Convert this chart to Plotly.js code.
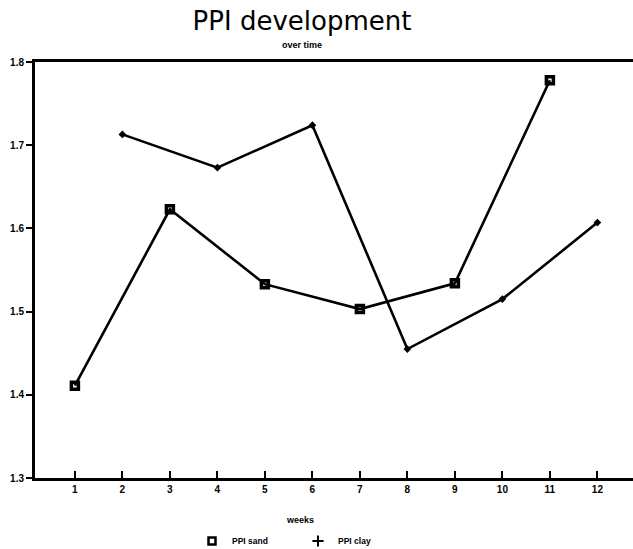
<!DOCTYPE html>
<html>
<head>
<meta charset="utf-8">
<script src="https://cdn.plot.ly/plotly-3.0.1.min.js"></script>
<style>html,body{margin:0;padding:0;overflow:hidden;background:#fff}</style>
</head>
<body>
<div id="chart" style="width:633px;height:549px"></div>
<script>
const sandWeeks = [1, 3, 5, 7, 9, 11];
const sandPPI = [1.411, 1.623, 1.533, 1.503, 1.534, 1.778];
const clayWeeks = [2, 4, 6, 8, 10, 12];
const clayPPI = [1.713, 1.673, 1.724, 1.455, 1.515, 1.607];
const weekTicks = [1, 2, 3, 4, 5, 6, 7, 8, 9, 10, 11, 12];
const yTicks = [1.3, 1.4, 1.5, 1.6, 1.7, 1.8];

const fontFam = 'Liberation Sans, Arial, sans-serif';
const data = [
  {x: sandWeeks, y: sandPPI, mode: 'lines+markers', name: 'PPI sand', showlegend: false,
   line: {color: '#000', width: 2.6},
   marker: {symbol: 'square-open', size: 7, color: '#000', line: {width: 3.5, color: '#000'}}},
  {x: clayWeeks, y: clayPPI, mode: 'lines+markers', name: 'PPI clay', showlegend: false,
   line: {color: '#000', width: 2.6},
   marker: {symbol: 'diamond', size: 6, color: '#000'}},
  {x: [null], y: [null], mode: 'markers', name: 'PPI sand', showlegend: true,
   marker: {symbol: 'square-open', size: 7, color: '#000', line: {width: 2.5, color: '#000'}}},
  {x: [null], y: [null], mode: 'markers', name: 'PPI clay', showlegend: true,
   marker: {symbol: 'cross-thin-open', size: 8, color: '#000', line: {width: 2, color: '#000'}}}
];

const layout = {
  width: 633, height: 549,
  margin: {l: 35, r: 0, t: 62, b: 71, autoexpand: false},
  paper_bgcolor: '#fff', plot_bgcolor: '#fff',
  font: {family: fontFam, color: '#000'},
  title: {text: 'PPI development', x: 302/633, xref: 'container', xanchor: 'center',
          y: 1 - 21/549, yref: 'container', yanchor: 'middle',
          font: {size: 26, family: 'DejaVu Sans, sans-serif', color: '#000'}},
  annotations: [
    {text: 'over time', xref: 'paper', yref: 'paper', x: (302-35)/598, y: 1 + 17/416,
     xanchor: 'center', yanchor: 'middle', showarrow: false,
     font: {size: 9, family: fontFam, weight: 'bold', color: '#000'}},
    {text: 'weeks', xref: 'paper', yref: 'paper', x: (300-35)/598, y: -42/416,
     xanchor: 'center', yanchor: 'middle', showarrow: false,
     font: {size: 9, family: fontFam, weight: 'bold', color: '#000'}}
  ],
  xaxis: {range: [0.16, 12.75], tickvals: weekTicks, ticktext: weekTicks.map(String),
          ticks: 'inside', ticklen: 7, tickwidth: 2, tickcolor: '#000',
          showline: true, linecolor: '#000', linewidth: 3, mirror: true,
          showgrid: false, zeroline: false, automargin: false,
          tickfont: {size: 10, family: fontFam, weight: 'bold'}},
  yaxis: {range: [1.3, 1.8], tickvals: yTicks, ticktext: yTicks.map(v => v.toFixed(1)),
          ticks: 'outside', ticklen: 6, tickwidth: 2, tickcolor: '#000',
          showline: true, linecolor: '#000', linewidth: 3,
          showgrid: false, zeroline: false, automargin: false,
          tickfont: {size: 10, family: fontFam, weight: 'bold'}},
  legend: {orientation: 'h', x: (192-35)/598, xanchor: 'left', y: -63/416, yanchor: 'middle',
           font: {size: 8.5, family: fontFam, weight: 'bold'}, itemwidth: 30,
           entrywidth: 61, entrywidthmode: 'pixels',
           bgcolor: 'rgba(0,0,0,0)'},
  showlegend: true
};

Plotly.newPlot('chart', data, layout, {staticPlot: true, displayModeBar: false});
</script>
</body>
</html>
